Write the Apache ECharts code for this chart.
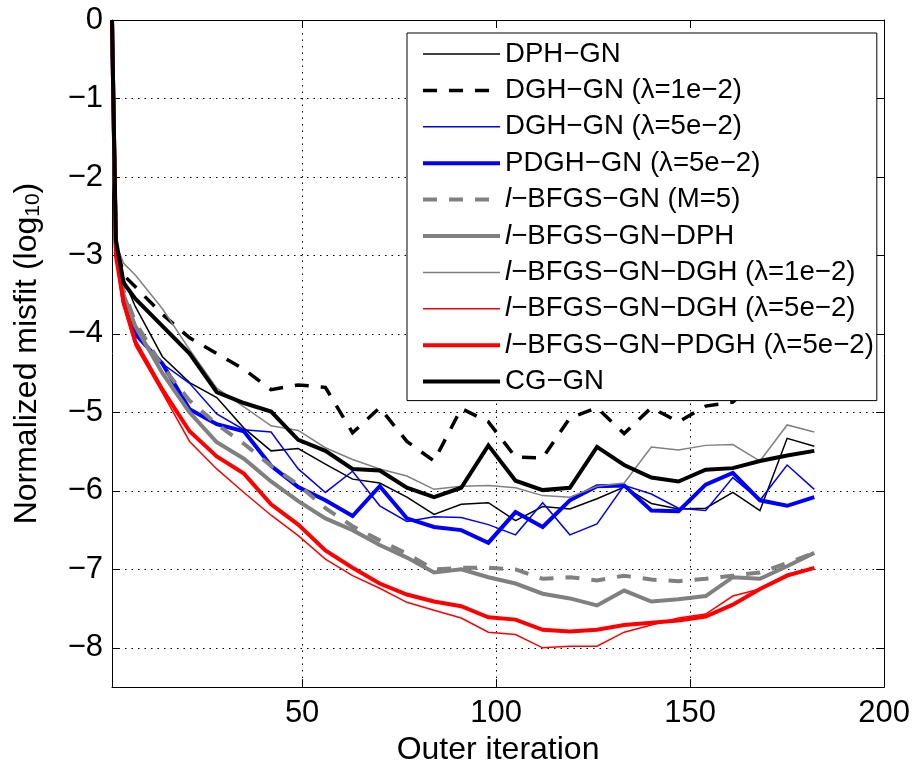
<!DOCTYPE html>
<html>
<head>
<meta charset="utf-8">
<script src="https://cdn.jsdelivr.net/npm/echarts@6/dist/echarts.min.js"></script>
<style>
html,body{margin:0;padding:0;background:#fff;}
#c{width:913px;height:771px;}
</style>
</head>
<body>
<div id="c"></div>
<script>
// Outer iteration values where the misfit was sampled
const xIter = [1, 2, 4, 7, 14, 21, 28, 35, 42, 49, 56, 63, 70, 77, 84, 91, 98, 105, 112, 119, 126, 133, 140, 147, 154, 161, 168, 175, 182];

const dphGN = [0, -2.8, -3.3, -3.65, -4.29, -4.62, -4.81, -5.2, -5.49, -5.46, -5.66, -5.85, -5.9, -6.08, -6.3, -6.17, -6.15, -6.38, -6.2, -6.23, -6.1, -5.95, -6.16, -6.23, -6.22, -6.02, -6.25, -5.33, -5.43];
const dghGN1 = [0, -2.85, -3.25, -3.4, -3.75, -4.05, -4.25, -4.45, -4.71, -4.65, -4.68, -5.26, -4.94, -5.37, -5.62, -4.95, -5.12, -5.57, -5.58, -5.07, -4.94, -5.27, -4.94, -5.12, -4.92, -4.87, -4.55, -4.4, -4.3];
const dghGN5 = [0, -2.9, -3.6, -3.98, -4.38, -4.63, -5.02, -5.22, -5.25, -5.72, -6.02, -5.75, -6.19, -6.39, -6.33, -6.34, -6.43, -6.56, -6.15, -6.56, -6.42, -5.93, -6.04, -6.22, -6.25, -5.83, -6.12, -5.67, -5.98];
const pdghGN5 = [0, -2.9, -3.6, -4.0, -4.38, -4.96, -5.15, -5.24, -5.68, -5.95, -6.12, -6.32, -5.94, -6.35, -6.46, -6.5, -6.66, -6.27, -6.46, -6.12, -5.94, -5.93, -6.25, -6.26, -5.92, -5.77, -6.12, -6.19, -6.08];
const lbfgsM5 = [0, -2.9, -3.45, -3.85, -4.42, -4.85, -5.15, -5.4, -5.68, -5.92, -6.22, -6.45, -6.63, -6.8, -7.0, -6.98, -6.98, -7.0, -7.12, -7.1, -7.14, -7.08, -7.13, -7.15, -7.12, -7.08, -7.04, -6.92, -6.79];
const lbfgsDPH = [0, -2.9, -3.5, -3.9, -4.5, -5.0, -5.38, -5.59, -5.88, -6.13, -6.35, -6.5, -6.69, -6.85, -7.04, -7.0, -7.1, -7.18, -7.31, -7.37, -7.46, -7.27, -7.41, -7.38, -7.34, -7.1, -7.12, -6.96, -6.79];
const lbfgsDGH1 = [0, -2.85, -3.1, -3.25, -3.68, -4.2, -4.69, -4.93, -5.17, -5.23, -5.45, -5.6, -5.72, -5.81, -5.98, -5.94, -5.93, -5.96, -6.06, -6.08, -5.94, -5.9, -5.44, -5.48, -5.42, -5.41, -5.62, -5.16, -5.25];
const lbfgsDGH5 = [0, -3.0, -3.65, -4.15, -4.75, -5.37, -5.72, -6.02, -6.31, -6.57, -6.87, -7.08, -7.24, -7.42, -7.52, -7.62, -7.8, -7.83, -8.0, -7.98, -7.98, -7.8, -7.71, -7.62, -7.57, -7.34, -7.25, -7.06, -6.98];
const lbfgsPDGH5 = [0, -3.0, -3.6, -4.1, -4.71, -5.24, -5.56, -5.78, -6.17, -6.43, -6.76, -6.98, -7.18, -7.32, -7.41, -7.47, -7.61, -7.64, -7.77, -7.79, -7.77, -7.71, -7.68, -7.65, -7.6, -7.45, -7.25, -7.08, -6.98];
const cgGN = [0, -2.8, -3.35, -3.55, -3.9, -4.25, -4.74, -4.88, -4.99, -5.35, -5.49, -5.72, -5.74, -5.96, -6.08, -5.96, -5.42, -5.87, -5.99, -5.96, -5.44, -5.67, -5.83, -5.88, -5.73, -5.71, -5.62, -5.55, -5.49];

const seriesNames = [
  'DPH\u2212GN',
  'DGH\u2212GN (\u03bb=1e\u22122)',
  'DGH\u2212GN (\u03bb=5e\u22122)',
  'PDGH\u2212GN (\u03bb=5e\u22122)',
  'l\u2212BFGS\u2212GN (M=5)',
  'l\u2212BFGS\u2212GN\u2212DPH',
  'l\u2212BFGS\u2212GN\u2212DGH (\u03bb=1e\u22122)',
  'l\u2212BFGS\u2212GN\u2212DGH (\u03bb=5e\u22122)',
  'l\u2212BFGS\u2212GN\u2212PDGH (\u03bb=5e\u22122)',
  'CG\u2212GN'
];
const seriesValues = [dphGN, dghGN1, dghGN5, pdghGN5, lbfgsM5, lbfgsDPH, lbfgsDGH1, lbfgsDGH5, lbfgsPDGH5, cgGN];

const xTicks = [50, 100, 150, 200];
const yTicks = [-8, -7, -6, -5, -4, -3, -2, -1, 0];

const GRAY = '#808080';
const styles = [
  {color: '#000000', width: 1.5, type: 'solid'},
  {color: '#000000', width: 3.5, type: [14, 12]},
  {color: '#0000ff', width: 1.5, type: 'solid'},
  {color: '#0000ff', width: 4, type: 'solid'},
  {color: GRAY, width: 4, type: [14, 12]},
  {color: GRAY, width: 4, type: 'solid'},
  {color: GRAY, width: 1.5, type: 'solid'},
  {color: '#ff0000', width: 1.5, type: 'solid'},
  {color: '#ff0000', width: 4, type: 'solid'},
  {color: '#000000', width: 4, type: 'solid'}
];

const FONT = 'Liberation Sans, Arial, Helvetica, sans-serif';
const minus = v => String(v).replace('-', '\u2212');

const series = seriesNames.map((name, i) => ({
  name: name,
  type: 'line',
  data: xIter.map((x, j) => [x, seriesValues[i][j]]),
  symbol: 'none',
  showSymbol: false,
  animation: false,
  z: 2 + i * 0.01,
  lineStyle: {color: styles[i].color, width: styles[i].width, type: styles[i].type, cap: 'butt', join: 'miter'},
  itemStyle: {color: styles[i].color}
}));

const chart = echarts.init(document.getElementById('c'), null, {renderer: 'canvas'});
chart.setOption({
  backgroundColor: '#ffffff',
  animation: false,
  textStyle: {fontFamily: FONT},
  grid: {left: 112, right: 28, top: 20, bottom: 72, containLabel: false},
  legend: {
    orient: 'vertical',
    left: 407,
    top: 33,
    z: 10,
    backgroundColor: '#ffffff',
    borderColor: '#000000',
    borderWidth: 1,
    borderRadius: 0,
    padding: [7, 3, 5, 14],
    itemWidth: 77,
    itemHeight: 14,
    itemGap: 8.4,
    selectedMode: false,
    data: seriesNames.map((n, i) => ({
      name: n,
      itemStyle: {opacity: 0, borderWidth: 0},
      lineStyle: {color: styles[i].color, width: styles[i].width, type: styles[i].type, cap: 'butt', opacity: 1}
    })),
    formatter: function (name) {
      if (name.charAt(0) === 'l') return '{it|l}{n|' + name.slice(1) + '}';
      return '{n|' + name + '}';
    },
    textStyle: {
      fontFamily: FONT, fontSize: 27.6, color: '#000', lineHeight: 28,
      rich: {
        n: {fontFamily: FONT, fontSize: 27.6, color: '#000', lineHeight: 28},
        it: {fontFamily: FONT, fontSize: 27.6, color: '#000', fontStyle: 'italic', lineHeight: 28}
      }
    }
  },
  xAxis: [{
    type: 'value', min: 1, max: 200,
    name: 'Outer iteration', nameLocation: 'middle', nameGap: 45,
    nameTextStyle: {fontFamily: FONT, fontSize: 32, color: '#000'},
    axisLine: {show: true, onZero: false, lineStyle: {color: '#000', width: 1}},
    axisTick: {show: true, inside: true, length: 8, customValues: xTicks, lineStyle: {color: '#000'}},
    axisLabel: {show: true, customValues: xTicks, fontFamily: FONT, fontSize: 31, color: '#000', margin: 11, formatter: minus},
    splitLine: {show: true, lineStyle: {color: '#000', width: 1, type: [1.5, 5]}}
  }, {
    type: 'value', min: 1, max: 200, position: 'top',
    axisLine: {show: true, onZero: false, lineStyle: {color: '#000', width: 1}},
    axisTick: {show: true, inside: true, length: 8, customValues: xTicks, lineStyle: {color: '#000'}},
    axisLabel: {show: false},
    splitLine: {show: false}
  }],
  yAxis: [{
    type: 'value', min: -8.5, max: 0,
    name: '{a|Normalized misfit (log}{s|10}{a|)}', nameLocation: 'middle', nameGap: 68, nameRotate: 90,
    nameTextStyle: {
      fontFamily: FONT, fontSize: 32, color: '#000',
      rich: {
        a: {fontFamily: FONT, fontSize: 32, color: '#000'},
        s: {fontFamily: FONT, fontSize: 21, color: '#000', verticalAlign: 'bottom', padding: [13, 0, 0, 0]}
      }
    },
    axisLine: {show: true, onZero: false, lineStyle: {color: '#000', width: 1}},
    axisTick: {show: true, inside: true, length: 8, customValues: yTicks, lineStyle: {color: '#000'}},
    axisLabel: {show: true, customValues: yTicks, fontFamily: FONT, fontSize: 31, color: '#000', margin: 9, formatter: minus},
    splitLine: {show: true, lineStyle: {color: '#000', width: 1, type: [1.5, 5]}}
  }, {
    type: 'value', min: -8.5, max: 0, position: 'right',
    axisLine: {show: true, onZero: false, lineStyle: {color: '#000', width: 1}},
    axisTick: {show: true, inside: true, length: 8, customValues: yTicks, lineStyle: {color: '#000'}},
    axisLabel: {show: false},
    splitLine: {show: false}
  }],
  series: series
});
</script>
</body>
</html>
